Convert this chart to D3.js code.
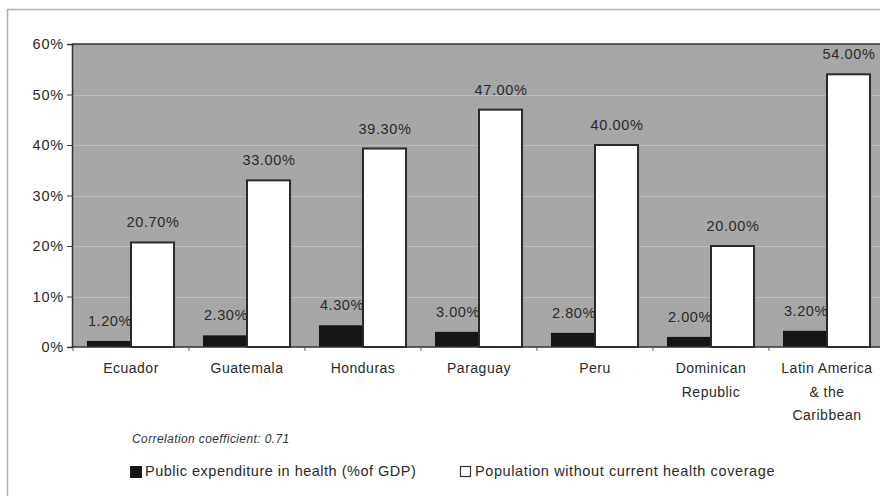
<!DOCTYPE html>
<html>
<head>
<meta charset="utf-8">
<script src="https://cdn.jsdelivr.net/npm/d3@7"></script>
<style>
  html, body { margin: 0; padding: 0; background: #fff; }
  svg { display: block; }
  text { font-family: "Liberation Sans", Arial, sans-serif; fill: #222; }
</style>
</head>
<body>
<svg id="chart" width="880" height="496"></svg>
<script>
const categories = ["Ecuador", "Guatemala", "Honduras", "Paraguay", "Peru", "Dominican Republic", "Latin America & the Caribbean"];
const categoryLines = [["Ecuador"], ["Guatemala"], ["Honduras"], ["Paraguay"], ["Peru"], ["Dominican", "Republic"], ["Latin America", "& the", "Caribbean"]];
const expenditure = [1.2, 2.3, 4.3, 3.0, 2.8, 2.0, 3.2];
const uncovered = [20.7, 33.0, 39.3, 47.0, 40.0, 20.0, 54.0];
const seriesNames = ["Public expenditure in health (%of GDP)", "Population without current health coverage"];
const yTicks = [0, 10, 20, 30, 40, 50, 60];
const note = "Correlation coefficient: 0.71";

const svg = d3.select("#chart");
const W = 880, H = 496;
const plot = { left: 72, top: 44, right: 885, bottom: 347 };

// outer frame
svg.append("path")
  .attr("d", `M7.5,${H} L7.5,9.5 L${W},9.5`)
  .attr("fill", "none").attr("stroke", "#b0b0b0").attr("stroke-width", 1.5);

const x = d3.scaleBand().domain(categories).range([plot.left + 1, plot.right]).paddingInner(0.241).paddingOuter(0.1205);
const xs = d3.scaleBand().domain(["exp", "unc"]).range([0, x.bandwidth()]);
const y = d3.scaleLinear().domain([0, 60]).range([plot.bottom, plot.top]);

// plot background
svg.append("rect")
  .attr("x", plot.left).attr("y", plot.top)
  .attr("width", plot.right - plot.left).attr("height", plot.bottom - plot.top)
  .attr("fill", "#a7a7a7");

// gridlines
svg.append("g").selectAll("line").data(yTicks.filter(d => d > 0 && d < 60)).join("line")
  .attr("x1", plot.left).attr("x2", plot.right)
  .attr("y1", d => Math.round(y(d)) + 0.5).attr("y2", d => Math.round(y(d)) + 0.5)
  .attr("stroke", "#bcbcbc").attr("stroke-width", 1);

// top border of plot
svg.append("line").attr("x1", plot.left).attr("x2", plot.right)
  .attr("y1", plot.top).attr("y2", plot.top).attr("stroke", "#333").attr("stroke-width", 1.5);

// bars
const groups = svg.append("g").selectAll("g").data(categories).join("g")
  .attr("transform", d => `translate(${x(d)},0)`);

groups.append("rect")
  .attr("x", xs("exp")).attr("width", xs.bandwidth())
  .attr("y", (d, i) => y(expenditure[i])).attr("height", (d, i) => y(0) - y(expenditure[i]))
  .attr("fill", "#161616");

groups.append("rect")
  .attr("x", xs("unc")).attr("width", xs.bandwidth() - 1)
  .attr("y", (d, i) => y(uncovered[i])).attr("height", (d, i) => y(0) - y(uncovered[i]))
  .attr("fill", "#fff").attr("stroke", "#2a2a2a").attr("stroke-width", 2);

// value labels
const fmt = v => v.toFixed(2) + "%";
groups.append("text")
  .attr("x", xs("exp") + xs.bandwidth() / 2 + 1)
  .attr("y", (d, i) => y(expenditure[i]) - 15)
  .attr("text-anchor", "middle").attr("font-size", 14.5).attr("letter-spacing", 0.6)
  .style("fill", "#2a2a2a")
  .text((d, i) => fmt(expenditure[i]));

groups.append("text")
  .attr("x", xs("unc") + xs.bandwidth() / 2)
  .attr("y", (d, i) => y(uncovered[i]) - 15)
  .attr("text-anchor", "middle").attr("font-size", 14.5).attr("letter-spacing", 0.6)
  .style("fill", "#2a2a2a")
  .text((d, i) => fmt(uncovered[i]));

// y axis
const yAxis = svg.append("g").attr("transform", `translate(${plot.left},0)`)
  .call(d3.axisLeft(y).tickValues(yTicks).tickFormat(d => d + "%").tickSize(5).tickPadding(3));
yAxis.select(".domain").attr("stroke", "#333").attr("stroke-width", 1.5);
yAxis.selectAll(".tick line").attr("stroke", "#333");
yAxis.selectAll("text").attr("font-size", 14.5).attr("letter-spacing", 0.8)
  .style("font-family", '"Liberation Sans", Arial, sans-serif').style("fill", "#2a2a2a");

// x axis baseline and boundary ticks
const xAxisG = svg.append("g");
xAxisG.append("line").attr("x1", plot.left).attr("x2", plot.right)
  .attr("y1", y(0)).attr("y2", y(0)).attr("stroke", "#333").attr("stroke-width", 1.5);
const bounds = categories.map(c => x(c) - x.step() * x.paddingInner() / 2);
xAxisG.selectAll("line.tk").data(bounds).join("line").attr("class", "tk")
  .attr("x1", d => d).attr("x2", d => d)
  .attr("y1", y(0)).attr("y2", y(0) + 4).attr("stroke", "#555");

// category labels
const catText = svg.append("g").selectAll("text").data(categories).join("text")
  .attr("x", d => x(d) + x.bandwidth() / 2)
  .attr("y", 373)
  .attr("text-anchor", "middle").attr("font-size", 14).attr("letter-spacing", 0.5)
  .style("fill", "#2a2a2a");
catText.each(function(d, i) {
  const t = d3.select(this);
  categoryLines[i].forEach((line, j) => {
    t.append("tspan").attr("x", x(d) + x.bandwidth() / 2).attr("dy", j === 0 ? 0 : 23.5).text(line);
  });
});

// note
svg.append("text").attr("x", 132).attr("y", 443)
  .attr("font-size", 12).attr("font-style", "italic").attr("letter-spacing", 0.4)
  .style("fill", "#333").text(note);

// legend
const legend = svg.append("g");
legend.append("rect").attr("x", 130).attr("y", 466).attr("width", 12).attr("height", 12).attr("fill", "#161616");
legend.append("text").attr("x", 145).attr("y", 476).attr("font-size", 14.5).attr("letter-spacing", 0.5)
  .style("fill", "#2a2a2a").text(seriesNames[0]);
legend.append("rect").attr("x", 460.5).attr("y", 466.5).attr("width", 10).attr("height", 10)
  .attr("fill", "#fff").attr("stroke", "#333").attr("stroke-width", 1.2);
legend.append("text").attr("x", 475).attr("y", 476).attr("font-size", 14.5).attr("letter-spacing", 0.6)
  .style("fill", "#2a2a2a").text(seriesNames[1]);
</script>
</body>
</html>
